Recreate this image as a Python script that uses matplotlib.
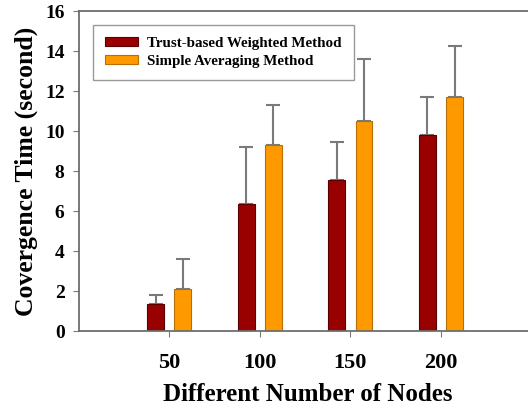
import numpy as np
import matplotlib.pyplot as plt

nodes = ["50", "100", "150", "200"]
trust_mean = [1.35, 6.35, 7.55, 9.78]
trust_err = [0.47, 2.84, 1.91, 1.95]
avg_mean = [2.12, 9.28, 10.5, 11.73]
avg_err = [1.47, 2.05, 3.1, 2.51]

plt.rcParams['font.family'] = ['Liberation Serif', 'DejaVu Serif']
plt.rcParams['font.weight'] = 'bold'

fig = plt.figure(figsize=(5.28, 4.08), dpi=100)
ax = fig.add_axes([0.1487, 0.1887, 0.87, 0.784])

x = np.arange(1, len(nodes) + 1)
w = 0.185
off = 0.15
ecol = '#7a7a7a'

ax.bar(x - off, trust_mean, w, color='#990000', edgecolor='#5a0000', linewidth=0.8,
       label='Trust-based Weighted Method', zorder=2)
ax.bar(x + off, avg_mean, w, color='#ff9900', edgecolor='#b86e00', linewidth=0.8,
       label='Simple Averaging Method', zorder=2)
ax.errorbar(x - off, trust_mean, yerr=[np.zeros(4), trust_err], fmt='none',
            ecolor=ecol, elinewidth=1.5, capsize=5, capthick=1.5, zorder=1)
ax.errorbar(x + off, avg_mean, yerr=[np.zeros(4), avg_err], fmt='none',
            ecolor=ecol, elinewidth=1.5, capsize=5, capthick=1.5, zorder=1)

ax.set_xlim(0, 5.07)
ax.set_ylim(0, 16)
ax.set_yticks(range(0, 17, 2))
ax.set_xticks(x)
ax.set_xticklabels(nodes, fontsize=16, fontweight='bold')
ax.tick_params(axis='x', length=4, pad=12, color=ecol)
ax.tick_params(axis='y', length=4, pad=6, labelsize=14, color=ecol)
for lab in ax.get_yticklabels():
    lab.set_fontweight('bold')

for s in ax.spines.values():
    s.set_color('#6e6e6e')
    s.set_linewidth(1.3)

ax.set_ylabel('Covergence Time (second)', fontsize=18.5, fontweight='bold', labelpad=5)
ax.set_xlabel('Different Number of Nodes', fontsize=18, fontweight='bold', labelpad=7)

leg = ax.legend(loc='upper left', bbox_to_anchor=(0.032, 0.958), fontsize=10.8,
                fancybox=False, edgecolor='#999999', framealpha=1,
                handlelength=2.2, handleheight=0.5, handletextpad=0.6,
                borderpad=0.8, labelspacing=0.35, borderaxespad=0)
leg.get_frame().set_linewidth(1.0)
for t in leg.get_texts():
    t.set_fontweight('bold')

fig.savefig('out.png', dpi=100)
